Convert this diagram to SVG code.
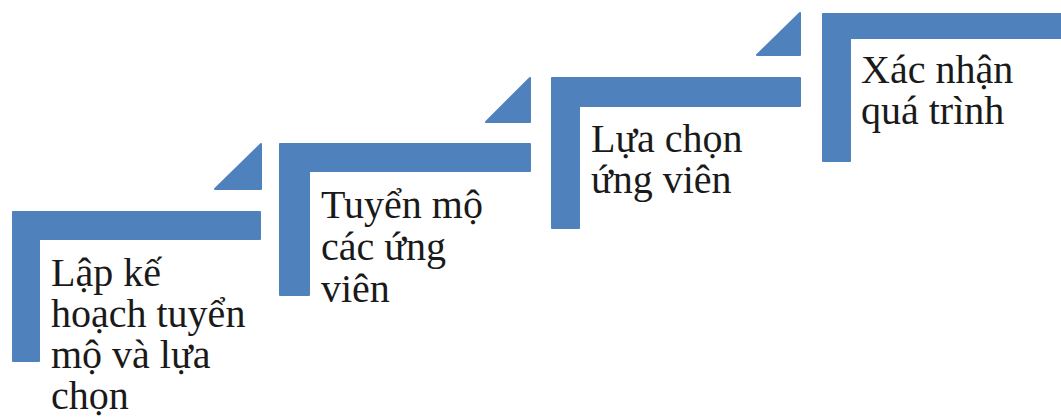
<svg xmlns="http://www.w3.org/2000/svg" width="1061" height="418" viewBox="0 0 1061 418">
  <style>
    .bar { fill: #4F81BD; stroke: #4F81BD; stroke-width: 2; stroke-linejoin: round; }
    .lbl { font-family: 'Liberation Serif', serif; font-size: 40px; fill: #1a1a1a; }
  </style>
  <rect width="1061" height="418" fill="#ffffff"/>

  <!-- Step 1 -->
  <g id="step1">
    <path class="bar" d="M13,212 H260 V239 H39 V361 H13 Z"/>
    <path class="bar" d="M261,144 V189 H215 Z"/>
    <text class="lbl" x="51" y="286">Lập kế</text>
    <text class="lbl" x="51" y="327">hoạch tuyển</text>
    <text class="lbl" x="51" y="368">mộ và lựa</text>
    <text class="lbl" x="51" y="409">chọn</text>
  </g>

  <!-- Step 2 -->
  <g id="step2">
    <path class="bar" d="M280,144 H530 V171 H309 V295 H280 Z"/>
    <path class="bar" d="M530,78 V122 H486 Z"/>
    <text class="lbl" x="321" y="218">Tuyển mộ</text>
    <text class="lbl" x="321" y="260">các ứng</text>
    <text class="lbl" x="321" y="302">viên</text>
  </g>

  <!-- Step 3 -->
  <g id="step3">
    <path class="bar" d="M552,78 H800 V106 H579 V228 H552 Z"/>
    <path class="bar" d="M800,13 V55 H757 Z"/>
    <text class="lbl" x="591" y="152">Lựa chọn</text>
    <text class="lbl" x="591" y="193">ứng viên</text>
  </g>

  <!-- Step 4 -->
  <g id="step4">
    <path class="bar" d="M823,14 H1070 V38 H850 V161 H823 Z"/>
    <text class="lbl" x="861" y="83">Xác nhận</text>
    <text class="lbl" x="861" y="124">quá trình</text>
  </g>

  <g id="connectors"/>
</svg>
